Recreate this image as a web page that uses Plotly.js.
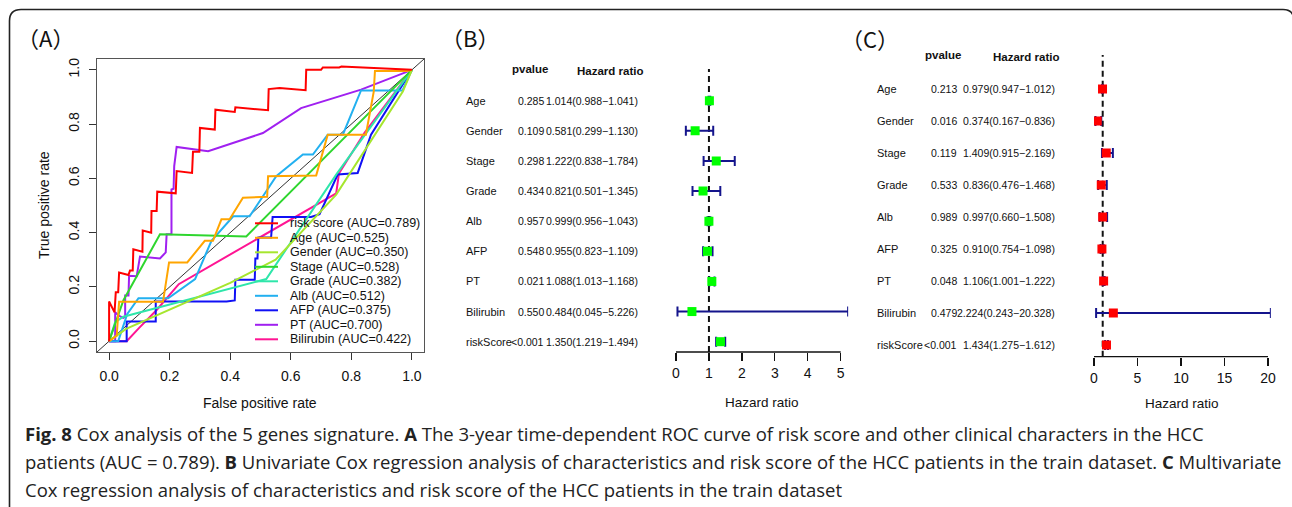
<!DOCTYPE html>
<html>
<head>
<meta charset="utf-8">
<script src="https://cdn.plot.ly/plotly-3.0.1.min.js"></script>
<style>html,body{margin:0;padding:0;background:#fff;}#chart{width:1292px;height:507px;}</style>
</head>
<body>
<div id="chart"></div>
<script>
// ---------------- Panel A: ROC data ----------------
const rocNames = ["risk score","Age","Gender","Stage","Grade","Alb","AFP","PT","Bilirubin"];
const rocAUC = ["0.789","0.525","0.350","0.528","0.382","0.512","0.375","0.700","0.422"];
const rocColors = ["#ff0000","#ffa500","#a6e62e","#2ed62e","#2ee6aa","#22b0f0","#1010f5","#a020f0","#ff1493"];

const fprRisk = [0,0,0.018,0.022,0.03,0.033,0.064,0.069,0.078,0.08,0.11,0.111,0.139,0.14,0.157,0.159,0.22,0.223,0.274,0.277,0.298,0.30,0.349,0.351,0.415,0.417,0.525,0.527,0.563,0.649,0.651,0.70,0.706,0.76,0.767,1];
const tprRisk = [0,0.146,0.106,0.18,0.18,0.253,0.244,0.26,0.26,0.339,0.33,0.408,0.40,0.48,0.48,0.551,0.545,0.627,0.62,0.698,0.698,0.786,0.78,0.853,0.845,0.862,0.851,0.929,0.933,0.925,1.0,1.0,1.009,1.009,1.012,1];
const fprAge = [0,0.025,0.033,0.178,0.198,0.258,0.316,0.343,0.371,0.398,0.442,0.508,0.522,0.525,0.684,0.722,0.848,0.874,0.878,0.985,1];
const tprAge = [0,0.02,0.145,0.145,0.29,0.29,0.37,0.37,0.449,0.449,0.529,0.532,0.532,0.608,0.611,0.761,0.761,0.92,0.996,0.996,1];
const fprGender = [0,0.056,0.4,0.55,0.75,0.97,1];
const tprGender = [0,0.045,0.215,0.3,0.54,0.92,1];
const fprStage = [0,0.047,0.168,0.453,1];
const tprStage = [0,0.15,0.394,0.386,1];
const fprGrade = [0,0.02,0.047,0.519,0.75,0.97,1];
const tprGrade = [0,0.07,0.09,0.229,0.614,0.955,1];
const fprAlb = [0,0.03,0.06,0.097,0.195,0.284,0.338,0.41,0.464,0.552,0.64,0.673,0.722,0.772,0.832,0.969,1];
const tprAlb = [0,0,0.1,0.158,0.158,0.229,0.37,0.46,0.46,0.608,0.688,0.688,0.761,0.761,0.924,0.924,1];
const fprAFP = [0,0.058,0.058,0.154,0.154,0.388,0.415,0.417,0.481,0.483,0.49,0.493,0.535,0.54,0.667,0.695,0.755,0.821,0.865,1];
const tprAFP = [0,0,0.072,0.072,0.146,0.146,0.15,0.226,0.226,0.305,0.305,0.382,0.382,0.458,0.458,0.468,0.614,0.62,0.761,1];
const fprPT = [0,0.02,0.02,0.035,0.047,0.053,0.053,0.064,0.066,0.091,0.102,0.168,0.187,0.19,0.206,0.206,0.213,0.215,0.223,0.30,0.327,0.508,0.634,0.832,1];
const tprPT = [0,0,0.106,0.092,0.086,0.09,0.168,0.168,0.241,0.239,0.312,0.305,0.327,0.394,0.394,0.559,0.562,0.645,0.716,0.704,0.70,0.767,0.859,0.927,1];
const fprBili = [0,0.058,0.1,0.157,0.23,0.75,0.759,0.843,1];
const tprBili = [0,0,0.05,0.115,0.21,0.545,0.618,0.767,1];
const rocX = [fprRisk,fprAge,fprGender,fprStage,fprGrade,fprAlb,fprAFP,fprPT,fprBili];
const rocY = [tprRisk,tprAge,tprGender,tprStage,tprGrade,tprAlb,tprAFP,tprPT,tprBili];
const rocTicks = [0,0.2,0.4,0.6,0.8,1.0];

// ---------------- Panel B / C: Cox data ----------------
const coxVars = ["Age","Gender","Stage","Grade","Alb","AFP","PT","Bilirubin","riskScore"];
const pUni = ["0.285","0.109","0.298","0.434","0.957","0.548","0.021","0.550","<0.001"];
const hrUni = [1.014,0.581,1.222,0.821,0.999,0.955,1.088,0.484,1.350];
const loUni = [0.988,0.299,0.838,0.501,0.956,0.823,1.013,0.045,1.219];
const hiUni = [1.041,1.130,1.784,1.345,1.043,1.109,1.168,5.226,1.494];
const ticksUni = [0,1,2,3,4,5];

const pMulti = ["0.213","0.016","0.119","0.533","0.989","0.325","0.048","0.479","<0.001"];
const hrMulti = [0.979,0.374,1.409,0.836,0.997,0.910,1.106,2.224,1.434];
const loMulti = [0.947,0.167,0.915,0.476,0.660,0.754,1.001,0.243,1.275];
const hiMulti = [1.012,0.836,2.169,1.468,1.508,1.098,1.222,20.328,1.612];
const ticksMulti = [0,5,10,15,20];

const refHR = 1;

// ---------------- helpers ----------------
const W = 1292, H = 507;
const fx = p => p / W;
const fy = p => 1 - p / H;
const ARIAL = "Liberation Sans, Arial, sans-serif";
const rowY = coxVars.map((v, i) => coxVars.length - i);
const hrText = (h, l, u) => h.map((v, i) => v.toFixed(3) + "(" + l[i].toFixed(3) + "\u2212" + u[i].toFixed(3) + ")");

const traces = [];
// diagonal reference
traces.push({x:[-0.04,1.04], y:[-0.04,1.04], mode:"lines", line:{color:"#333", width:1}, xaxis:"x", yaxis:"y", showlegend:false, hoverinfo:"skip"});
for (let i = rocNames.length - 1; i >= 0; i--) {
  traces.push({x: rocX[i], y: rocY[i], mode:"lines", name: rocNames[i],
    line:{color: rocColors[i], width:2}, xaxis:"x", yaxis:"y", showlegend:false});
}
// Forest B
traces.push({x: hrUni, y: rowY, mode:"markers", xaxis:"x2", yaxis:"y2", showlegend:false,
  marker:{symbol:"square", size:9, color:"#00ff00"},
  error_x:{type:"data", symmetric:false, array: hiUni.map((u,i)=>u-hrUni[i]), arrayminus: loUni.map((l,i)=>hrUni[i]-l), color:"#14148c", thickness:2, width:5}});
// Forest C
traces.push({x: hrMulti, y: rowY, mode:"markers", xaxis:"x3", yaxis:"y3", showlegend:false,
  marker:{symbol:"square", size:9, color:"#ff0000"},
  error_x:{type:"data", symmetric:false, array: hiMulti.map((u,i)=>u-hrMulti[i]), arrayminus: loMulti.map((l,i)=>hrMulti[i]-l), color:"#14148c", thickness:2, width:5}});

const annotations = [];
const shapes = [];
const txtA = (text, x, y, size, opts) => annotations.push(Object.assign({text:text, x:fx(x), y:fy(y), xref:"paper", yref:"paper",
  xanchor:"center", yanchor:"middle", showarrow:false, font:{family:ARIAL, size:size, color:"#111"}}, opts || {}));

// panel letters
[["\uff08A\uff09",45,37],["\uff08B\uff09",470,37],["\uff08C\uff09",870,38]].forEach(a=>{
  txtA(a[0], a[1], a[2], 22, {font:{family:"Noto Sans CJK SC, sans-serif", size:22, color:"#111"}});
});

// axis titles
txtA("False positive rate", 260, 403, 14);
txtA("True positive rate", 44, 205, 14, {textangle:-90});
txtA("Hazard ratio", 762, 402, 13.5);
txtA("Hazard ratio", 1182, 403, 13.5);

// legend for panel A (manual, compact like R)
rocNames.forEach((n, i) => {
  const yy = 223.3 + i * 14.5;
  shapes.push({type:"line", xref:"paper", yref:"paper", x0:fx(255), x1:fx(278), y0:fy(yy), y1:fy(yy), line:{color:rocColors[i], width:2}});
  txtA(n + " (AUC=" + rocAUC[i] + ")", 288, yy, 12.5, {xanchor:"left"});
});

// table text for forest panels
function table(yref, xLabel, xP, xHR, hdrY1, hdrY2, xHdrP, xHdrHR, pv, hrs, lo, hi) {
  const txt = hrText(hrs, lo, hi);
  coxVars.forEach((v, i) => {
    annotations.push({text:v, x:fx(xLabel), y:rowY[i], xref:"paper", yref:yref, xanchor:"left", yanchor:"middle", showarrow:false, font:{family:ARIAL, size:11, color:"#111"}});
    annotations.push({text:pv[i], x:fx(xP), y:rowY[i], xref:"paper", yref:yref, xanchor:"right", yanchor:"middle", showarrow:false, font:{family:ARIAL, size:10.5, color:"#111"}});
    annotations.push({text:txt[i], x:fx(xHR), y:rowY[i], xref:"paper", yref:yref, xanchor:"right", yanchor:"middle", showarrow:false, font:{family:ARIAL, size:10.5, color:"#111"}});
  });
  txtA("<b>pvalue</b>", xHdrP, hdrY1, 11.5);
  txtA("<b>Hazard ratio</b>", xHdrHR, hdrY2, 11.5);
}
table("y2", 464, 546, 640, 69, 71, 530, 610, pUni, hrUni, loUni, hiUni);
table("y3", 875, 959, 1057, 55, 57, 943, 1026, pMulti, hrMulti, loMulti, hiMulti);

// forest axis lines and reference lines
[["x2","y2",ticksUni],["x3","y3",ticksMulti]].forEach(a=>{
  shapes.push({type:"line", xref:a[0], yref:a[1]+" domain", x0:a[2][0], x1:a[2][a[2].length-1], y0:0, y1:0, line:{color:"#111", width:1.3}});
  shapes.push({type:"line", xref:a[0], yref:a[1]+" domain", x0:refHR, x1:refHR, y0:0, y1:1, layer:"below", line:{color:"#111", width:2, dash:"6px,4px"}});
});

// outer frame
shapes.push({type:"path", xref:"paper", yref:"paper",
  path:`M ${fx(9.5)},${fy(507)} L ${fx(9.5)},${fy(21)} Q ${fx(9.5)},${fy(9.5)} ${fx(21)},${fy(9.5)} L ${fx(1283)},${fy(9.5)} Q ${fx(1294)},${fy(9.5)} ${fx(1294)},${fy(21)} L ${fx(1294)},${fy(507)}`,
  line:{color:"#222", width:1.6}});

// caption
const capLines = [
  "<b>Fig. 8</b> Cox analysis of the 5 genes signature. <b>A</b> The 3-year time-dependent ROC curve of risk score and other clinical characters in the HCC",
  "patients (AUC = 0.789). <b>B</b> Univariate Cox regression analysis of characteristics and risk score of the HCC patients in the train dataset. <b>C</b> Multivariate",
  "Cox regression analysis of characteristics and risk score of the HCC patients in the train dataset"
];
capLines.forEach((t, i) => {
  annotations.push({text:t, x:fx(23), y:fy(433 + i * 28), xref:"paper", yref:"paper", xanchor:"left", yanchor:"middle", showarrow:false,
    font:{family:"Open Sans, sans-serif", size:18.5, color:"#222"}});
});

const axA = {range:[-0.04,1.04], tickvals:rocTicks, tickformat:".1f", ticks:"outside", ticklen:7, tickcolor:"#333",
  showline:true, mirror:true, linecolor:"#555", linewidth:1.2, showgrid:false, zeroline:false, ticklabelstandoff:4,
  tickfont:{family:ARIAL, size:14, color:"#111"}};

const layout = {
  width:W, height:H, margin:{l:0,r:0,t:0,b:0}, paper_bgcolor:"#fff", plot_bgcolor:"rgba(0,0,0,0)",
  showlegend:false,
  xaxis: Object.assign({}, axA, {domain:[fx(97), fx(424)], anchor:"y"}),
  yaxis: Object.assign({}, axA, {domain:[fy(352), fy(59)], anchor:"x", tickangle:-90}),
  xaxis2: {domain:[fx(676), fx(676 + Math.max(...hiUni) * 32.94)], range:[0, Math.max(...hiUni)], anchor:"y2",
    tickvals:ticksUni, ticks:"outside", ticklen:8, tickcolor:"#111", tickwidth:1.3, showline:false, showgrid:false, zeroline:false,
    tickfont:{family:ARIAL, size:14, color:"#111"}},
  yaxis2: {domain:[fy(352), fy(69)], range:[0.658, 10.05], anchor:"x2", visible:false},
  xaxis3: {domain:[fx(1094), fx(1094 + Math.max(...hiMulti) * 8.7)], range:[0, Math.max(...hiMulti)], anchor:"y3",
    tickvals:ticksMulti, ticks:"outside", ticklen:8, tickcolor:"#111", tickwidth:1.3, showline:false, showgrid:false, zeroline:false,
    tickfont:{family:ARIAL, size:14, color:"#111"}},
  yaxis3: {domain:[fy(356.7), fy(55)], range:[0.634, 10.06], anchor:"x3", visible:false},
  annotations: annotations,
  shapes: shapes
};

Plotly.newPlot("chart", traces, layout, {staticPlot:true, displayModeBar:false});
</script>
</body>
</html>
